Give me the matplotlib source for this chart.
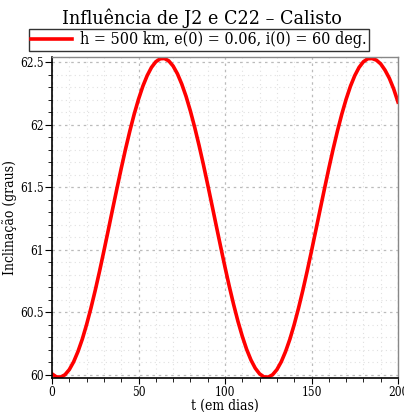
import matplotlib
matplotlib.use("Agg")
import matplotlib.pyplot as plt
from matplotlib.ticker import MultipleLocator

t_days = [0, 2.5, 5, 7.5, 10, 12.5, 15, 17.5, 20, 22.5, 25, 27.5, 30, 32.5, 35, 37.5,
          40, 42.5, 45, 47.5, 50, 52.5, 55, 57.5, 60, 62.5, 65, 67.5, 70, 72.5, 75, 77.5,
          80, 82.5, 85, 87.5, 90, 92.5, 95, 97.5, 100, 102.5, 105, 107.5, 110, 112.5, 115,
          117.5, 120, 122.5, 125, 127.5, 130, 132.5, 135, 137.5, 140, 142.5, 145, 147.5,
          150, 152.5, 155, 157.5, 160, 162.5, 165, 167.5, 170, 172.5, 175, 177.5, 180,
          182.5, 185, 187.5, 190, 192.5, 195, 197.5, 200]
inclination = [60.008, 59.984, 59.982, 60.001, 60.042, 60.104, 60.186, 60.285, 60.402, 60.533,
               60.676, 60.829, 60.990, 61.155, 61.322, 61.487, 61.649, 61.804, 61.949, 62.083,
               62.202, 62.306, 62.391, 62.457, 62.502, 62.526, 62.528, 62.509, 62.468, 62.406,
               62.324, 62.225, 62.108, 61.977, 61.834, 61.681, 61.520, 61.355, 61.188, 61.023,
               60.861, 60.706, 60.561, 60.427, 60.308, 60.204, 60.119, 60.053, 60.008, 59.984,
               59.982, 60.001, 60.042, 60.104, 60.186, 60.285, 60.402, 60.533, 60.676, 60.829,
               60.990, 61.155, 61.322, 61.487, 61.649, 61.804, 61.949, 62.083, 62.202, 62.306,
               62.391, 62.457, 62.502, 62.526, 62.528, 62.515, 62.485, 62.435, 62.370, 62.285,
               62.180]
x_ticks = [0, 50, 100, 150, 200]
y_ticks = [60, 60.5, 61, 61.5, 62, 62.5]
y_tick_labels = ["60", "60.5", "61", "61.5", "62", "62.5"]
title = "Influência de J2 e C22 – Calisto"
legend_label = "h = 500 km, e(0) = 0.06, i(0) = 60 deg."

plt.rcParams['font.family'] = ['DejaVu Serif']
plt.rcParams['font.stretch'] = 'condensed'

fig = plt.figure(figsize=(4.04, 4.12), dpi=100)
ax = fig.add_axes([52/404, 34/412, 346/404, 321/412])

ax.plot(t_days, inclination, color='#ff0000', lw=2.6, label=legend_label)
ax.set_xlim(0, 200)
ax.set_ylim(59.975, 62.54)
ax.set_xticks(x_ticks)
ax.set_yticks(y_ticks)
ax.set_yticklabels(y_tick_labels)
ax.xaxis.set_minor_locator(MultipleLocator(10))
ax.yaxis.set_minor_locator(MultipleLocator(0.1))
ax.grid(which='major', color='#bbbbbb', ls=(0, (2, 3)), lw=0.9)
ax.grid(which='minor', color='#e0e0e0', ls=(0, (1, 3)), lw=0.8)
ax.tick_params(which='both', direction='out', colors='black', labelsize=8.5, top=False, right=False)
ax.tick_params(axis='y', which='major', length=5, pad=1)
ax.tick_params(axis='x', which='major', length=4, pad=1.5)
ax.tick_params(which='minor', length=3)
for s in ['left', 'bottom']:
    ax.spines[s].set_color('black')
    ax.spines[s].set_linewidth(1.2)
for s in ['top', 'right']:
    ax.spines[s].set_color('#888888')
    ax.spines[s].set_linewidth(1.0)
ax.set_xlabel("t (em dias)", fontsize=10, labelpad=0)
ax.set_ylabel("Inclinação (graus)", fontsize=10, labelpad=2)

fig.text(0.5, 1 - 18/412, title, ha='center', va='center', fontsize=14)
leg = fig.legend(loc='center', bbox_to_anchor=(199/404, 1 - 40/412), fontsize=11.5,
                 frameon=True, fancybox=False, edgecolor='black', handlelength=2.6,
                 borderpad=0.15, handletextpad=0.5, borderaxespad=0)
leg.get_frame().set_linewidth(1.0)
fig.savefig("out.png", dpi=100)
